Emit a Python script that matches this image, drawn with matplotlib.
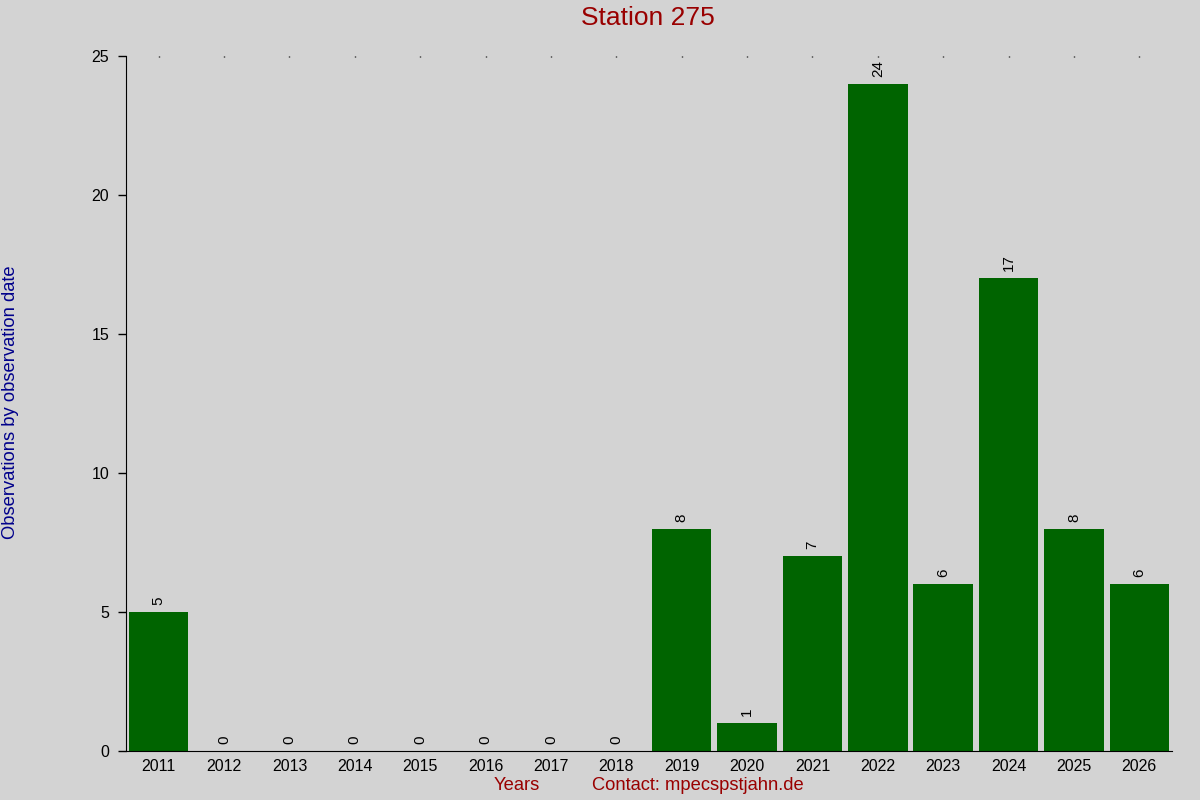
import matplotlib
matplotlib.use("Agg")
import matplotlib.pyplot as plt

years = ["2011", "2012", "2013", "2014", "2015", "2016", "2017", "2018",
         "2019", "2020", "2021", "2022", "2023", "2024", "2025", "2026"]
counts = [5, 0, 0, 0, 0, 0, 0, 0, 8, 1, 7, 24, 6, 17, 8, 6]
yticks = [0, 5, 10, 15, 20, 25]

plt.rcParams['font.family'] = ['Liberation Sans', 'DejaVu Sans']

bg = "#d3d3d3"
fig = plt.figure(figsize=(12, 8), dpi=100, facecolor=bg)
ax = fig.add_axes([0.105, 0.06125, 0.8717, 0.86875])
ax.set_facecolor(bg)

x = list(range(len(years)))
ax.bar(x, counts, width=0.91, color="#006400")
for xi, c in zip(x, counts):
    ax.annotate(str(c), (xi, c), xytext=(0, 5), textcoords="offset points",
                rotation=90, ha="center", va="bottom", fontsize=11, color="black")

ax.set_xlim(-0.5, len(years) - 0.5)
ax.set_ylim(0, 25)
ax.set_yticks(yticks)
ax.set_xticks(x)
ax.set_xticklabels(years)
ax.tick_params(axis='y', length=6, width=1, labelsize=11.5, pad=6)
ax.tick_params(axis='x', bottom=False, top=True, length=1, width=1,
               direction='in', labelsize=11.5, pad=6)
for s in ["top", "right"]:
    ax.spines[s].set_visible(False)

fig.text(0.54, 0.977, "Station 275", ha="center", va="center",
         fontsize=19, color="#990000")
fig.text(0.009, 0.4975, "Observations by observation date", rotation=90,
         ha="center", va="center", fontsize=13.2, color="#00008b")
fig.text(0.431, 0.0175, "Years", ha="center", va="center", fontsize=13.2, color="#990000")
fig.text(0.5817, 0.0175, "Contact: mpecspstjahn.de", ha="center", va="center",
         fontsize=13.2, color="#990000")

fig.savefig("out.png", dpi=100, facecolor=bg)
